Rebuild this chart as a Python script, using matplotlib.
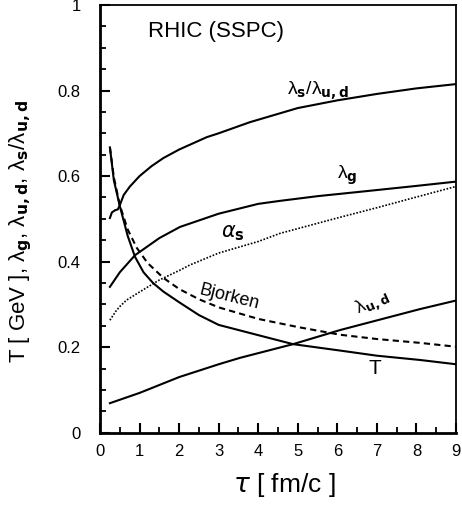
import matplotlib
matplotlib.use("Agg")
import matplotlib.pyplot as plt
from matplotlib.ticker import MultipleLocator

plt.rcParams['font.family'] = ['Liberation Sans', 'DejaVu Sans']
plt.rcParams['mathtext.fontset'] = 'dejavusans'

# valeurs
tau_T = [0.25, 0.35, 0.5, 0.7, 0.885, 1.1, 1.34, 1.6, 2.0, 2.5, 3.0, 4.0, 4.88, 6.07, 7.0, 8.09, 9.0]
T = [0.667, 0.59, 0.53, 0.46, 0.411, 0.375, 0.35, 0.33, 0.305, 0.275, 0.252, 0.228, 0.207, 0.192, 0.180, 0.170, 0.160]

tau_bj = [0.25, 0.35, 0.5, 0.7, 0.93, 1.2, 1.6, 2.0, 2.5, 3.0, 4.0, 5.0, 6.07, 7.0, 8.09, 9.0]
bjorken = [0.667, 0.597, 0.532, 0.475, 0.432, 0.397, 0.362, 0.336, 0.312, 0.293, 0.266, 0.247, 0.229, 0.219, 0.210, 0.201]

tau_ratio = [0.25, 0.3, 0.38, 0.45, 0.5, 0.6, 0.75, 1.0, 1.3, 1.6, 2.0, 2.7, 3.0, 3.79, 5.0, 6.0, 7.0, 8.0, 9.0]
ratio_s_ud = [0.502, 0.515, 0.52, 0.522, 0.532, 0.556, 0.575, 0.60, 0.623, 0.642, 0.662, 0.691, 0.70, 0.726, 0.759, 0.777, 0.792, 0.805, 0.815]

tau_g = [0.25, 0.5, 0.885, 1.5, 2.02, 3.0, 4.0, 4.55, 5.5, 6.76, 8.0, 9.0]
lambda_g = [0.341, 0.375, 0.415, 0.455, 0.481, 0.512, 0.535, 0.542, 0.553, 0.565, 0.577, 0.587]

tau_a = [0.25, 0.4, 0.5, 0.67, 1.0, 1.5, 2.02, 2.27, 3.0, 4.0, 4.55, 6.0, 7.0, 8.0, 8.97]
alpha_s = [0.263, 0.284, 0.295, 0.31, 0.329, 0.357, 0.38, 0.392, 0.42, 0.447, 0.466, 0.502, 0.526, 0.551, 0.575]

tau_ud = [0.25, 1.0, 2.0, 3.0, 3.54, 4.88, 6.07, 8.09, 9.0]
lambda_ud = [0.069, 0.093, 0.13, 0.16, 0.175, 0.207, 0.24, 0.289, 0.309]

x_ticks = [0, 1, 2, 3, 4, 5, 6, 7, 8, 9]
y_ticks = [0, 0.2, 0.4, 0.6, 0.8, 1.0]
y_ticklabels = ['0', '0.2', '0.4', '0.6', '0.8', '1']

fig = plt.figure(figsize=(4.62, 5.12), dpi=100)
ax = fig.add_axes([0.2165, 0.1549, 0.7706, 0.8354])

ax.plot(tau_T, T, color='black', lw=1.5)
ax.plot(tau_bj, bjorken, color='black', lw=1.5, linestyle=(0, (3, 2)))
ax.plot(tau_ratio, ratio_s_ud, color='black', lw=1.5)
ax.plot(tau_g, lambda_g, color='black', lw=1.5)
ax.plot(tau_a, alpha_s, color='black', lw=1.2, linestyle=(0, (1, 1)))
ax.plot(tau_ud, lambda_ud, color='black', lw=1.5)

ax.set_xlim(0, 9)
ax.set_ylim(0, 1)
ax.set_xticks(x_ticks)
ax.set_xticklabels([str(i) for i in x_ticks])
ax.set_yticks(y_ticks)
ax.set_yticklabels(y_ticklabels)
ax.xaxis.set_minor_locator(MultipleLocator(0.5))
ax.yaxis.set_minor_locator(MultipleLocator(0.05))

ax.tick_params(which='major', direction='in', length=7, width=1.5, labelsize=12,
               top=False, right=False)
ax.tick_params(axis='y', which='major', pad=14)
ax.tick_params(axis='x', which='major', pad=8)
ax.tick_params(which='minor', direction='in', length=4, width=1.3, top=False, right=False)

ax.spines['left'].set_linewidth(2)
ax.spines['bottom'].set_linewidth(2)
ax.spines['top'].set_linewidth(1.3)
ax.spines['right'].set_linewidth(1.3)

ax.set_xlabel(r'$\tau$ [ fm/c ]', fontsize=19)
ax.xaxis.set_label_coords(0.517, -0.09)
ax.set_ylabel(r'T [ GeV ], λ$_\mathbf{g}$, λ$_\mathbf{u,d}$, λ$_\mathbf{s}$/λ$_\mathbf{u,d}$', fontsize=16)
ax.yaxis.set_label_coords(-0.185, 0.47)

ax.text(1.21, 0.937, 'RHIC (SSPC)', fontsize=16, ha='left', va='center')
ax.text(5.5, 0.80, r'λ$_\mathbf{s}$/λ$_\mathbf{u,d}$', fontsize=14, ha='center', va='center')
ax.text(6.24, 0.602, r'λ$_\mathbf{g}$', fontsize=14, ha='center', va='center')
ax.text(3.37, 0.467, r'$\alpha_\mathbf{s}$', fontsize=15, ha='center', va='center')
ax.text(3.26, 0.318, 'Bjorken', fontsize=13, ha='center', va='center', rotation=-14)
ax.text(6.88, 0.303, r'λ$_\mathbf{u,d}$', fontsize=13, ha='center', va='center', rotation=25)
ax.text(6.95, 0.151, 'T', fontsize=15, ha='center', va='center')

plt.savefig('out.png', dpi=100)
